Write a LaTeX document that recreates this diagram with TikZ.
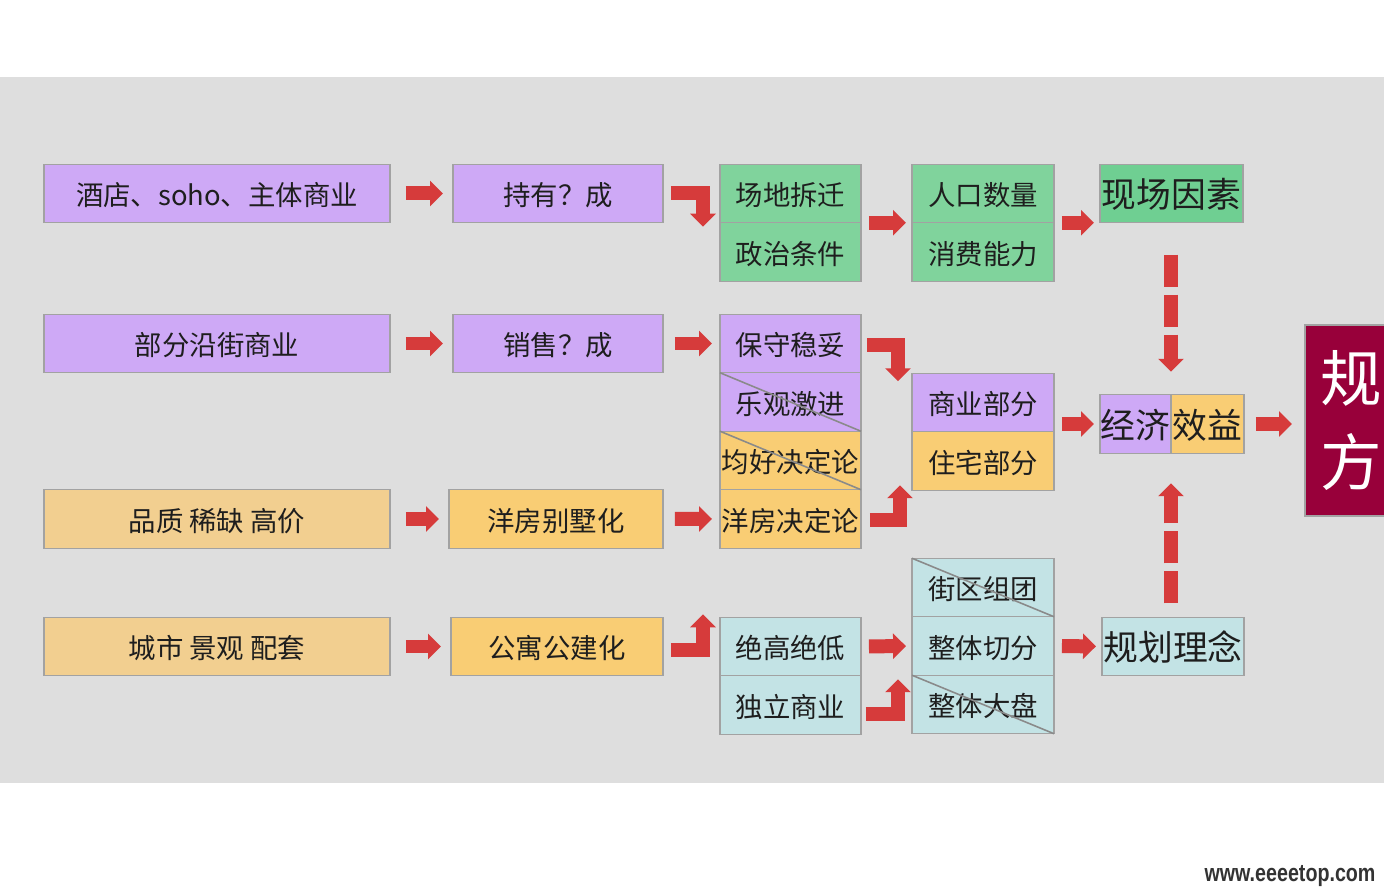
\documentclass[tikz,border=0pt]{standalone}
\usepackage{fontspec}
\setmainfont{Noto Sans CJK SC}
\newfontfamily\markfont{Liberation Sans}
\usetikzlibrary{arrows.meta,positioning,calc}
\definecolor{PlBack}{HTML}{DEDEDE}
\definecolor{PlLine}{HTML}{A2A2A2}
\definecolor{PlText}{HTML}{1E1E1E}
\definecolor{PlPurple}{HTML}{CEA9F6}
\definecolor{PlGreen}{HTML}{80D39C}
\definecolor{PlGreenDk}{HTML}{6FCF92}
\definecolor{PlOrange}{HTML}{F9CD74}
\definecolor{PlTan}{HTML}{F2CF90}
\definecolor{PlBlue}{HTML}{C3E3E5}
\definecolor{PlRed}{HTML}{D63B3B}
\definecolor{PlWine}{HTML}{98003A}

\begin{document}
\begin{tikzpicture}[x=0.02cm,y=-0.02cm]
\tikzset{cell/.style={draw=PlLine,line width=0.8pt,outer sep=0pt,inner sep=0pt,minimum height=1.17cm,text height=0.56cm,text depth=0.06cm,text=PlText,font=\fontsize{15.6}{18}\selectfont},colA/.style={cell,minimum width=6.92cm},colB/.style={cell,minimum width=4.2cm},colC/.style={cell,minimum width=2.82cm},colD/.style={cell,minimum width=2.84cm},bigcell/.style={cell,minimum width=2.86cm,text height=0.66cm,text depth=0.08cm,font=\fontsize{19.8}{22}\selectfont},bigbox/.style={draw=PlLine,line width=0.8pt,fill=PlWine,text=white,outer sep=0pt,inner ysep=0pt,inner xsep=0.3cm,minimum height=3.82cm,text width=2.9cm,align=left,font=\fontsize{35}{48}\selectfont},diag/.style={draw=PlLine!85!black,line width=0.9pt},fatarr/.style={draw=PlRed,line width=0.28cm,-{Triangle[width=0.5cm,length=0.26cm]}},dasharr/.style={fatarr,dash pattern=on 0.64cm off 0.16cm},agap/.style={shorten <=0.32cm,shorten >=0.2cm},bgap/.style={shorten <=0.24cm,shorten >=0.16cm},cgap/.style={shorten <=0.16cm,shorten >=0.12cm}}
\useasboundingbox (0,0) rectangle (1384,895);
\clip (0,0) rectangle (1384,895);
\fill[white] (0,0) rectangle (1384,895);
\fill[PlBack] (0,77) rectangle (1384,783);
% left two columns
\node[colA,fill=PlPurple] (A1) at (217,193.5) {酒店、soho、主体商业};
\node[colA,fill=PlPurple] (A2) at (217,343.5) {部分沿街商业};
\node[colA,fill=PlTan] (A3) at (217,519) {品质 稀缺 高价};
\node[colA,fill=PlTan] (A4) at (217,646.5) {城市 景观 配套};
\node[colB,fill=PlPurple] (B1) at (558,193.5) {持有？成};
\node[colB,fill=PlPurple] (B2) at (558,343.5) {销售？成};
\node[colB,fill=PlOrange,minimum width=4.28cm] (B3) at (556,519) {洋房别墅化};
\node[colB,fill=PlOrange,minimum width=4.24cm] (B4) at (557,646.5) {公寓公建化};
% middle column
\node[colC,fill=PlGreen] (C1a) at (790.5,193.5) {场地拆迁};
\node[colC,fill=PlGreen,below=0pt of C1a] (C1b) {政治条件};
\node[colC,fill=PlPurple] (C2a) at (790.5,343.5) {保守稳妥};
\node[colC,fill=PlPurple,below=0pt of C2a] (C2b) {乐观激进};
\node[colC,fill=PlOrange,below=0pt of C2b] (C2c) {均好决定论};
\node[colC,fill=PlOrange,below=0pt of C2c] (C2d) {洋房决定论};
\node[colC,fill=PlBlue] (C4a) at (790.5,646.5) {绝高绝低};
\node[colC,fill=PlBlue,below=0pt of C4a] (C4b) {独立商业};
\draw[diag] (C2b.north west) -- (C2b.south east);
\draw[diag] (C2c.north west) -- (C2c.south east);
% fourth column
\node[colD,fill=PlGreen] (D1a) at (983,193.5) {人口数量};
\node[colD,fill=PlGreen,below=0pt of D1a] (D1b) {消费能力};
\node[colD,fill=PlPurple] (D2a) at (983,402.5) {商业部分};
\node[colD,fill=PlOrange,below=0pt of D2a] (D2b) {住宅部分};
\node[colD,fill=PlBlue] (D4a) at (983,587.5) {街区组团};
\node[colD,fill=PlBlue,below=0pt of D4a] (D4b) {整体切分};
\node[colD,fill=PlBlue,below=0pt of D4b] (D4c) {整体大盘};
\draw[diag] (D4a.north west) -- (D4a.south east);
\draw[diag] (D4c.north west) -- (D4c.south east);
% right column
\node[bigcell,fill=PlGreenDk] (E1) at (1171.5,193.5) {现场因素};
\node[bigcell,fill=PlPurple,minimum width=1.42cm] (E2a) at (1135.5,424) {经济};
\node[bigcell,fill=PlOrange,minimum width=1.46cm,right=0pt of E2a] (E2b) {效益};
\node[bigcell,fill=PlBlue,minimum width=2.84cm] (E4) at (1173,646.5) {规划理念};
\node[bigbox,anchor=north west] (F) at (1305,325) {规\\方};
% arrows
\draw[fatarr,agap] (A1) -- (B1);
\draw[fatarr,agap] (A2) -- (B2);
\draw[fatarr,agap] (A3) -- (B3);
\draw[fatarr,agap] (A4) -- (B4);
\draw[fatarr] ($(B1.east)+(8,0)$) -| ($(C1a.south west)+(-17,4)$);
\draw[fatarr,bgap] (B2) -- (C2a);
\draw[fatarr,bgap] (B3) -- (C2d);
\draw[fatarr] ($(B4.east)+(8,3.5)$) -| ($(C4a.north west)+(-17,-3)$);
\draw[fatarr,cgap] (C1a.south east) -- (D1a.south west);
\draw[fatarr] ($(C2a.east)+(6,1.5)$) -| ($(D2a.north west)+(-14,8)$);
\draw[fatarr] ($(C2d.east)+(9,1)$) -| ($(D2b.south west)+(-12,-5)$);
\draw[fatarr,cgap] (C4a) -- (D4b);
\draw[fatarr] ($(C4b.east)+(5,9.5)$) -| ($(D4c.north west)+(-14,4)$);
\draw[fatarr,cgap] (D1a.south east) -- (E1.south west);
\draw[fatarr,cgap] (E2a.west -| D2a.east) -- (E2a);
\draw[fatarr,cgap] (D4b) -- (E4);
\draw[fatarr,shorten <=0.24cm,shorten >=0.26cm] (E2b) -- (E2b.east -| F.west);
\draw[dasharr,shorten <=0.64cm,shorten >=0.46cm] (E2a.north east |- E1.south) -- (E2a.north east);
\draw[dasharr,shorten <=0.28cm,shorten >=0.6cm] (E2a.south east |- E4.north) -- (E2a.south east);
\node[font=\markfont\bfseries\fontsize{14}{16}\selectfont,text=black!80,xscale=0.8] (mark) at (1290,876) {www.eeeetop.com};
\end{tikzpicture}
\end{document}
